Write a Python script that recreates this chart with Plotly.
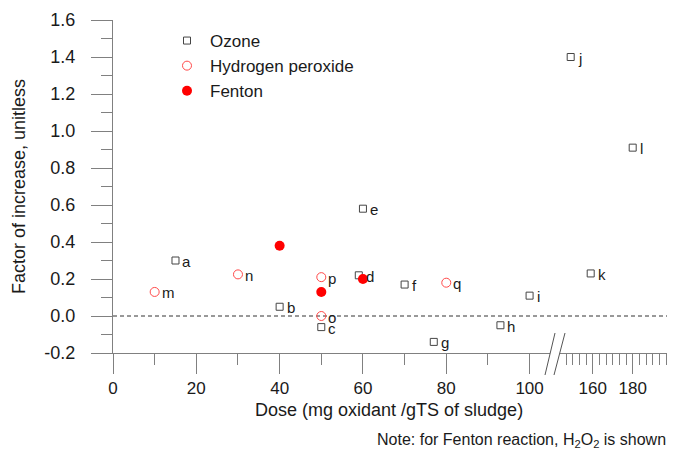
import plotly.graph_objects as go

# ---------------- data ----------------
ozone_dose = [15, 40, 50, 59, 60, 70, 77, 93, 100, 149, 159, 180]
ozone_factor = [0.30, 0.05, -0.06, 0.22, 0.58, 0.17, -0.14, -0.05, 0.11, 1.40, 0.23, 0.91]
ozone_labels = ["a", "b", "c", "d", "e", "f", "g", "h", "i", "j", "k", "l"]

h2o2_dose = [10, 30, 50, 50, 80]
h2o2_factor = [0.13, 0.225, 0.0, 0.21, 0.18]
h2o2_labels = ["m", "n", "o", "p", "q"]

fenton_dose = [40, 50, 60]
fenton_factor = [0.38, 0.13, 0.20]

left_ticks = [0, 20, 40, 60, 80, 100]
left_minor = [10, 30, 50, 70, 90]
right_ticks = [160, 180]
right_minor = [146.67, 150, 153.33, 156.67, 163.33, 166.67, 170, 173.33, 176.67,
               183.33, 186.67, 190, 193.33, 196.67]
y_ticks = [-0.2, 0.0, 0.2, 0.4, 0.6, 0.8, 1.0, 1.2, 1.4, 1.6]
y_ticktext = ["-0.2", "0.0", "0.2", "0.4", "0.6", "0.8", "1.0", "1.2", "1.4", "1.6"]
y_minor = [-0.1, 0.1, 0.3, 0.5, 0.7, 0.9, 1.1, 1.3, 1.5]

BREAK = 105

FONT = "Arial, 'Liberation Sans', sans-serif"
AX = "#808080"
TXT = "#1a1a1a"

OFF = 8  # page body margin
W, H = 678 - OFF, 449 - OFF
ML, MR, MT, MB = 113 - OFF, 11, 20 - OFF, 96
PW, PH = W - ML - MR, H - MT - MB


def px2paper(px, py):
    """page pixel -> paper coordinate"""
    fx, fy = px - OFF, py - OFF
    return (fx - ML) / PW, (H - MB - fy) / PH


def split(xs, ys, labels=None):
    left, right = ([], [], []), ([], [], [])
    for i, (x, y) in enumerate(zip(xs, ys)):
        tgt = left if x <= BREAK else right
        tgt[0].append(x)
        tgt[1].append(y)
        tgt[2].append(labels[i] if labels else "")
    return left, right


series = [
    ("Ozone", ozone_dose, ozone_factor, ozone_labels,
     dict(symbol="square-open", size=7, color="#454545", line=dict(width=1))),
    ("Hydrogen peroxide", h2o2_dose, h2o2_factor, h2o2_labels,
     dict(symbol="circle-open", size=9, color="#ff4a4a", line=dict(width=1))),
    ("Fenton", fenton_dose, fenton_factor, None,
     dict(symbol="circle", size=10, color="#ff0000")),
]

fig = go.Figure()
annotations = []
for name, xs, ys, labels, marker in series:
    left, right = split(xs, ys, labels)
    for axis, part in (("x", left), ("x2", right)):
        if not part[0]:
            continue
        fig.add_trace(go.Scatter(
            x=part[0], y=part[1], mode="markers", name=name,
            marker=marker, xaxis=axis, yaxis="y",
            legendgroup=name, showlegend=(axis == "x"),
        ))
        if labels:
            for x, y, t in zip(*part):
                annotations.append(dict(
                    x=x, y=y, xref=axis, yref="y", text=t, showarrow=False,
                    xanchor="left", yanchor="middle", xshift=5, yshift=-1,
                    font=dict(size=15, color=TXT, family=FONT),
                ))

# axis titles and note
annotations.append(dict(
    x=px2paper(389, 0)[0], y=px2paper(0, 410)[1], xref="paper", yref="paper",
    text="Dose (mg oxidant /gTS of sludge)", showarrow=False,
    xanchor="center", yanchor="middle", font=dict(size=18, color=TXT, family=FONT)))
annotations.append(dict(
    x=px2paper(19, 0)[0], y=px2paper(0, 187)[1], xref="paper", yref="paper",
    text="Factor of increase, unitless", showarrow=False, textangle=-90,
    xanchor="center", yanchor="middle", font=dict(size=18, color=TXT, family=FONT)))
annotations.append(dict(
    x=px2paper(668, 0)[0], y=px2paper(0, 440)[1], xref="paper", yref="paper",
    text="Note: for Fenton reaction, H<sub>2</sub>O<sub>2</sub> is shown", showarrow=False,
    xanchor="right", yanchor="middle", font=dict(size=16, color=TXT, family=FONT)))

# break marks and zero line
shapes = [dict(type="line", xref="paper", yref="y", x0=0, x1=1, y0=0, y1=0,
               line=dict(color="#333333", width=1, dash="4px,3px"), layer="below")]
for (x0, y0, x1, y1) in [(545, 375, 555, 333), (554, 375, 565, 333)]:
    a0, b0 = px2paper(x0, y0)
    a1, b1 = px2paper(x1, y1)
    shapes.append(dict(type="line", xref="paper", yref="paper", x0=a0, y0=b0, x1=a1, y1=b1,
                       line=dict(color="#555555", width=1)))

left_end = px2paper(550, 0)[0]
right_start = px2paper(560, 0)[0]

common_x = dict(showline=True, linecolor=AX, linewidth=1, showgrid=False, zeroline=False,
                ticks="outside", ticklen=20, tickcolor=AX, tickwidth=1,
                tickfont=dict(size=17, color=TXT, family=FONT), anchor="y")

fig.update_layout(
    width=W, height=H,
    margin=dict(l=ML, r=MR, t=MT, b=MB, autoexpand=False),
    paper_bgcolor="white", plot_bgcolor="white",
    font=dict(family=FONT, color=TXT),
    xaxis=dict(common_x, domain=[0, left_end], range=[0, 104.9],
               tickmode="array", tickvals=left_ticks,
               minor=dict(tickmode="array", tickvals=left_minor, ticks="outside",
                          ticklen=11, tickcolor=AX, showgrid=False)),
    xaxis2=dict(common_x, domain=[right_start, 1], range=[143.65, 197.15],
                tickmode="array", tickvals=right_ticks,
                minor=dict(tickmode="array", tickvals=right_minor, ticks="outside",
                           ticklen=11, tickcolor=AX, showgrid=False)),
    yaxis=dict(range=[-0.2, 1.6], showline=True, linecolor=AX, linewidth=1,
               showgrid=False, zeroline=False, ticks="outside", ticklen=21,
               tickcolor=AX, tickmode="array", tickvals=y_ticks, ticktext=y_ticktext,
               ticklabelstandoff=12,
               tickfont=dict(size=18, color=TXT, family=FONT),
               minor=dict(tickmode="array", tickvals=y_minor, ticks="outside",
                          ticklen=11, tickcolor=AX, showgrid=False)),
    legend=dict(x=px2paper(164, 0)[0], y=px2paper(0, 23)[1], xanchor="left", yanchor="top",
                bgcolor="rgba(0,0,0,0)", font=dict(size=17, color=TXT, family=FONT),
                tracegroupgap=0, itemwidth=36),
    annotations=annotations,
    shapes=shapes,
)

fig.write_html("out.html")
